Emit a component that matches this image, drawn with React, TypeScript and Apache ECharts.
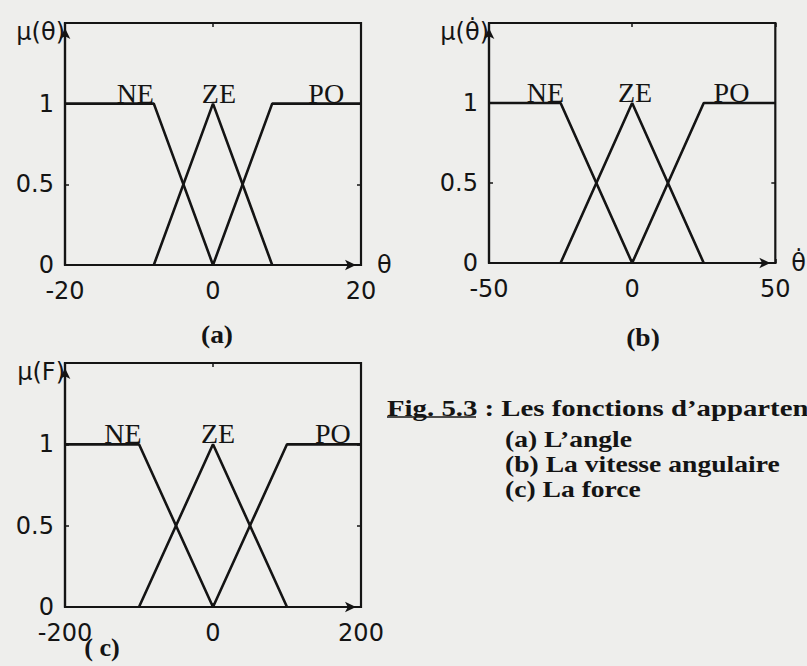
import React, { useEffect, useRef } from "react";
import * as echarts from "echarts";

// Linguistic terms shared by the three universes
const termNames = ["NE", "ZE", "PO"];
const muMax = 1.5;
const muStep = 0.5;

// (a) angle θ
const angleTicks = [-20, 0, 20];
const angleNE = [[-20, 1], [-8, 1], [0, 0]];
const angleZE = [[-8, 0], [0, 1], [8, 0]];
const anglePO = [[0, 0], [8, 1], [20, 1]];

// (b) angular velocity θ̇
const velTicks = [-50, 0, 50];
const velNE = [[-50, 1], [-25, 1], [0, 0]];
const velZE = [[-25, 0], [0, 1], [25, 0]];
const velPO = [[0, 0], [25, 1], [50, 1]];

// (c) force F
const forceTicks = [-200, 0, 200];
const forceNE = [[-200, 1], [-100, 1], [0, 0]];
const forceZE = [[-100, 0], [0, 1], [100, 0]];
const forcePO = [[0, 0], [100, 1], [200, 1]];

const INK = "#141414";
const SANS = '"DejaVu Sans", sans-serif';
const SERIF = '"Liberation Serif", "Times New Roman", serif';

type Panel = {
  grid: { left: number; top: number; width: number; height: number };
  ticks: number[];
  sets: number[][][];
  yName: string;
  xName: string;
  termX: number[];
};

const panels: Panel[] = [
  {
    grid: { left: 65, top: 23, width: 296, height: 242 },
    ticks: angleTicks,
    sets: [angleNE, angleZE, anglePO],
    yName: "μ(θ)",
    xName: "θ",
    termX: [-10.5, 0.8, 15.3],
  },
  {
    grid: { left: 489, top: 23, width: 294, height: 240 },
    ticks: velTicks,
    sets: [velNE, velZE, velPO],
    yName: "μ(θ\u0307)",
    xName: "θ\u0307",
    termX: [-30.3, 1, 34.7],
  },
  {
    grid: { left: 65, top: 363, width: 296, height: 244 },
    ticks: forceTicks,
    sets: [forceNE, forceZE, forcePO],
    yName: "μ(F)",
    xName: "",
    termX: [-121.6, 6.8, 162],
  },
];

function buildOption() {
  const grid: any[] = [];
  const xAxis: any[] = [];
  const yAxis: any[] = [];
  const series: any[] = [];

  const arrowLine = {
    show: true,
    onZero: false,
    symbol: ["none", "arrow"],
    symbolSize: [8, 11],
    symbolOffset: [0, -5],
    lineStyle: { color: INK, width: 2.2 },
  };
  const innerTick = { show: true, inside: true, length: 4, lineStyle: { color: INK, width: 1.5 } };

  panels.forEach((p, i) => {
    grid.push({
      ...p.grid,
      show: true,
      borderColor: INK,
      borderWidth: 2.2,
      backgroundColor: "transparent",
    });
    // bottom axis with arrow
    xAxis.push({
      type: "value",
      gridIndex: i,
      min: p.ticks[0],
      max: p.ticks[p.ticks.length - 1],
      interval: p.ticks[1] - p.ticks[0],
      position: "bottom",
      name: p.xName,
      nameLocation: "end",
      nameGap: 16,
      nameTextStyle: {
        fontFamily: SANS,
        fontSize: 24,
        color: INK,
        align: "left",
        verticalAlign: "middle",
      },
      axisLine: arrowLine,
      axisTick: innerTick,
      axisLabel: { fontFamily: SANS, fontSize: 24, color: INK, margin: 14 },
      splitLine: { show: false },
    });
    // left axis with arrow
    yAxis.push({
      type: "value",
      gridIndex: i,
      min: 0,
      max: muMax,
      interval: muStep,
      position: "left",
      name: p.yName,
      nameLocation: "end",
      nameGap: -9,
      nameTextStyle: {
        fontFamily: SANS,
        fontSize: 24,
        color: INK,
        align: "right",
        verticalAlign: "middle",
      },
      axisLine: arrowLine,
      axisTick: innerTick,
      axisLabel: {
        fontFamily: SANS,
        fontSize: 24,
        color: INK,
        margin: 11,
        formatter: (v: number) => (v >= muMax ? "" : String(v)),
      },
      splitLine: { show: false },
    });
  });

  // frame ticks on the top and right sides
  panels.forEach((p, i) => {
    xAxis.push({
      type: "value",
      gridIndex: i,
      min: p.ticks[0],
      max: p.ticks[p.ticks.length - 1],
      interval: p.ticks[1] - p.ticks[0],
      position: "top",
      axisLine: { show: false, onZero: false },
      axisTick: innerTick,
      axisLabel: { show: false },
      splitLine: { show: false },
    });
    yAxis.push({
      type: "value",
      gridIndex: i,
      min: 0,
      max: muMax,
      interval: muStep,
      position: "right",
      axisLine: { show: false, onZero: false },
      axisTick: innerTick,
      axisLabel: { show: false },
      splitLine: { show: false },
    });
  });

  panels.forEach((p, i) => {
    p.sets.forEach((pts, k) => {
      series.push({
        type: "line",
        name: termNames[k],
        xAxisIndex: i,
        yAxisIndex: i,
        data: pts,
        symbol: "none",
        lineStyle: { color: INK, width: 2.6 },
        silent: true,
      });
    });
    series.push({
      type: "scatter",
      xAxisIndex: i,
      yAxisIndex: i,
      symbolSize: 1,
      itemStyle: { color: "rgba(0,0,0,0)", opacity: 1 },
      silent: true,
      data: p.termX.map((x, k) => ({ value: [x, 1], name: termNames[k] })),
      label: {
        show: true,
        position: "top",
        distance: -4,
        formatter: "{b}",
        fontFamily: SERIF,
        fontSize: 28,
        color: INK,
        opacity: 1,
      },
    });
  });

  const bold = (size: number) => `bold ${size}px ${SERIF}`;
  const caption = (text: string, x: number, y: number, align: string, sx: number, size = 24) => ({
    type: "text",
    x,
    y,
    scaleX: sx,
    style: { text, font: bold(size), fill: INK, align, verticalAlign: "middle" },
  });
  const graphic: any[] = [
    caption("(a)", 217, 335, "center", 1.1, 25),
    caption("(b)", 643, 338, "center", 1.1, 25),
    caption("( c)", 102, 648, "center", 1.05, 25),
    caption("Fig. 5.3 : Les fonctions d’appartenance", 387, 408, "left", 1.2),
    { type: "line", shape: { x1: 387, y1: 417, x2: 476, y2: 417 }, style: { stroke: INK, lineWidth: 1.6 } },
    caption("(a) L’angle", 505, 439, "left", 1.15),
    caption("(b) La vitesse angulaire", 505, 464, "left", 1.15),
    caption("(c) La force", 505, 489, "left", 1.15),
  ];

  return {
    animation: false,
    backgroundColor: "#eeeeec",
    grid,
    xAxis,
    yAxis,
    series,
    graphic,
  };
}

export default function App() {
  const ref = useRef<HTMLDivElement>(null);
  useEffect(() => {
    if (!ref.current) return;
    const chart = echarts.init(ref.current, undefined, { renderer: "svg" });
    chart.setOption(buildOption() as any);
    return () => chart.dispose();
  }, []);
  return (
    <div
      ref={ref}
      style={{ position: "absolute", left: 0, top: 0, width: 807, height: 666, background: "#eeeeec" }}
    />
  );
}
